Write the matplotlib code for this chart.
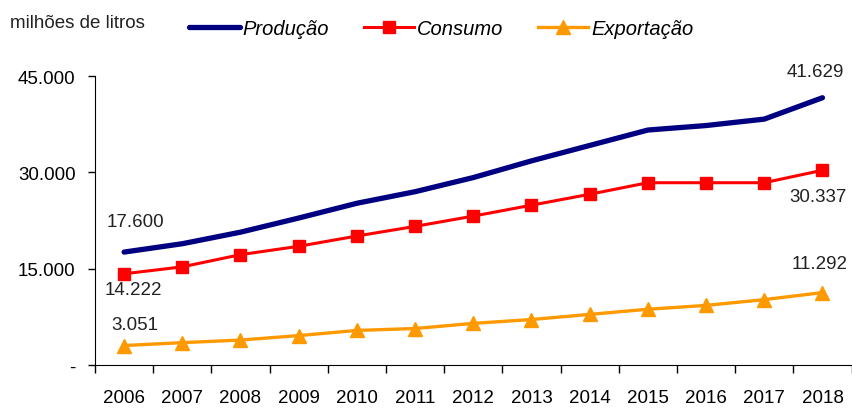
import numpy as np
import matplotlib.pyplot as plt
from matplotlib.ticker import FixedLocator

plt.rcParams['font.family'] = ['Liberation Sans', 'DejaVu Sans']

anos = ['2006', '2007', '2008', '2009', '2010', '2011', '2012',
        '2013', '2014', '2015', '2016', '2017', '2018']
producao = [17600, 18900, 20700, 22900, 25200, 27000, 29200,
            31800, 34200, 36600, 37300, 38300, 41629]
consumo = [14222, 15300, 17200, 18500, 20100, 21600, 23200,
           24900, 26600, 28400, 28400, 28400, 30337]
exportacao = [3051, 3500, 3900, 4600, 5400, 5700, 6500,
              7100, 7900, 8700, 9300, 10200, 11292]
yticks = [0, 15000, 30000, 45000]
ylabels = ['-', '15.000', '30.000', '45.000']

x = np.arange(len(anos))

fig = plt.figure(figsize=(8.52, 4.10), dpi=100)
ax = fig.add_axes([0.1115, 0.107, 0.888, 0.705])

ax.plot(x, producao, color='#000080', linewidth=3.8, label='Produção',
        solid_capstyle='round')
ax.plot(x, consumo, color='#FF0000', linewidth=2.2, marker='s',
        markersize=9, label='Consumo')
ax.plot(x, exportacao, color='#FF9900', linewidth=2.4, marker='^',
        markersize=10, label='Exportação')

ax.set_xlim(-0.5, len(anos) - 0.5)
ax.set_ylim(0, 45000)

# eixo x: marcas entre categorias, rótulos no centro
ax.set_xticks(x)
ax.set_xticklabels(anos)
ax.xaxis.set_minor_locator(FixedLocator(np.arange(-0.5, len(anos), 1)))
ax.tick_params(axis='x', which='major', length=0, pad=17, labelsize=13.5)
ax.tick_params(axis='x', which='minor', length=6, direction='out', width=1)

ax.set_yticks(yticks)
ax.set_yticklabels(ylabels)
ax.tick_params(axis='y', length=5, width=1, pad=9, labelsize=13.5)

ax.spines['top'].set_visible(False)
ax.spines['right'].set_visible(False)

# rótulos de valores
fmt = lambda v: f'{v:,}'.replace(',', '.')
lbl = dict(fontsize=13.5, ha='center', va='center', color='#222222')
ax.annotate(fmt(producao[0]), (x[0], producao[0]), xytext=(8, 22),
            textcoords='offset points', **lbl)
ax.annotate(fmt(consumo[0]), (x[0], consumo[0]), xytext=(7, -11),
            textcoords='offset points', **lbl)
ax.annotate(fmt(exportacao[0]), (x[0], exportacao[0]), xytext=(8, 15),
            textcoords='offset points', **lbl)
ax.annotate(fmt(producao[-1]), (x[-1], producao[-1]), xytext=(-5, 19),
            textcoords='offset points', **lbl)
ax.annotate(fmt(consumo[-1]), (x[-1], consumo[-1]), xytext=(-3, -19),
            textcoords='offset points', **lbl)
ax.annotate(fmt(exportacao[-1]), (x[-1], exportacao[-1]), xytext=(-2, 21),
            textcoords='offset points', **lbl)

fig.text(0.012, 0.943, 'milhões de litros', fontsize=13.5, va='center',
         color='#222222')

fig.legend(loc='center', bbox_to_anchor=(0.518, 0.928), ncol=3,
           frameon=False, handlelength=2.5, handletextpad=0.15,
           columnspacing=1.7, prop={'style': 'italic', 'size': 14.5})

fig.savefig('out.png', dpi=100)
